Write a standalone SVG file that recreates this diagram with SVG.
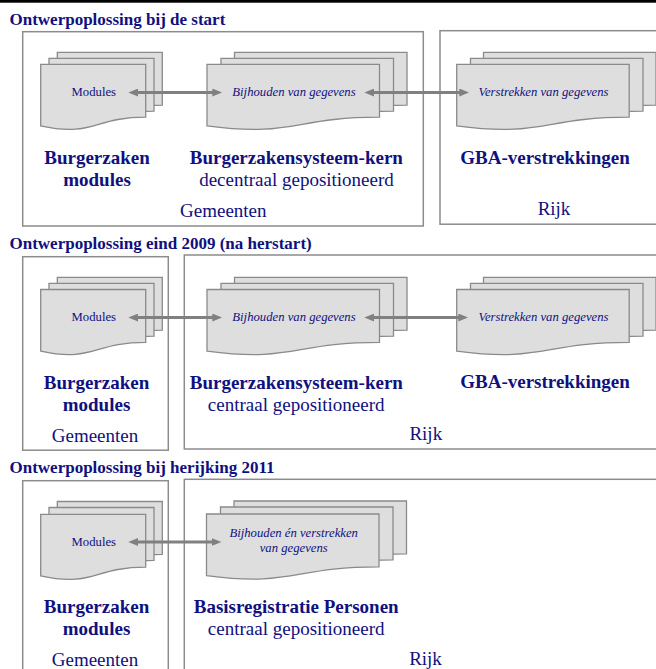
<svg xmlns="http://www.w3.org/2000/svg" xmlns:xlink="http://www.w3.org/1999/xlink" width="656" height="669" viewBox="0 0 656 669">
<style>
.box{fill:#fff;stroke:#8c8c8c;stroke-width:1.5}
.doc{fill:#dedede;stroke:#8a8a8a;stroke-width:1.3}
.t{font-family:'Liberation Serif',Tinos,'Times New Roman',Times,'DejaVu Serif',serif;fill:#10107e}
.title{font-size:17px;font-weight:bold}
.h{font-size:19px;font-weight:bold;text-anchor:middle}
.n{font-size:19px;text-anchor:middle}
.s{font-size:12.7px;text-anchor:middle}
.i{font-size:12.7px;font-style:italic;text-anchor:middle}
.arr{stroke:#808080;stroke-width:3;fill:none;marker-start:url(#ah);marker-end:url(#ah)}
</style>
<defs>
<marker id="ah" viewBox="0 0 10 8" markerWidth="10" markerHeight="8" refX="5" refY="4" orient="auto-start-reverse" markerUnits="userSpaceOnUse">
<path d="M0,0 L10,4 L0,8 Z" fill="#808080"/>
</marker>
<path id="docS" class="doc" d="M0,0 H105 V52.9 C52.5,52.9 52.5,73.1 0,61.6 Z"/>
<path id="docL" class="doc" d="M0,0 H172.5 V52.9 C86.25,52.9 86.25,73.1 0,61.6 Z"/>
</defs>
<rect x="0" y="0" width="656" height="2.7" fill="#000"/>

<!-- Section 1 -->
<g id="section1" font-family="Liberation Serif, serif">
<text class="t title" x="9.5" y="24.5">Ontwerpoplossing bij de start</text>
<g id="s1-gemeenten"><rect class="box" x="22.7" y="31.7" width="400.6" height="194.3"/>
<text class="t n" x="223.3" y="216.5">Gemeenten</text></g>
<g id="s1-rijk"><rect class="box" x="440" y="30.7" width="240" height="193.5"/>
<text class="t n" x="554" y="215">Rijk</text></g>
<g id="s1-modules">
<use href="#docS" x="57.3" y="52.3"/><use href="#docS" x="49" y="58.3"/><use href="#docS" x="40.7" y="64.3"/>
<text class="t s" x="93.8" y="96">Modules</text>
<text class="t h" x="97" y="164">Burgerzaken</text>
<text class="t h" x="97" y="186">modules</text></g>
<g id="s1-bijhouden">
<use href="#docL" x="234.5" y="52.3"/><use href="#docL" x="221" y="58.3"/><use href="#docL" x="207" y="64.3"/>
<text class="t i" x="294" y="96">Bijhouden van gegevens</text>
<text class="t h" x="296.3" y="164">Burgerzakensysteem-kern</text>
<text class="t n" x="296.5" y="186">decentraal gepositioneerd</text></g>
<g id="s1-verstrekken">
<use href="#docL" x="483.5" y="52.3"/><use href="#docL" x="470.5" y="58.3"/><use href="#docL" x="456.7" y="64.3"/>
<text class="t i" x="543.5" y="96">Verstrekken van gegevens</text>
<text class="t h" x="545" y="164">GBA-verstrekkingen</text></g>
</g>

<!-- Section 2 -->
<g id="section2">
<text class="t title" x="9.5" y="248.5">Ontwerpoplossing eind 2009 (na herstart)</text>
<g id="s2-gemeenten"><rect class="box" x="22.7" y="256.7" width="145.6" height="193.5"/>
<text class="t n" x="95" y="441.5">Gemeenten</text></g>
<g id="s2-rijk"><rect class="box" x="184.3" y="255" width="500" height="194"/>
<text class="t n" x="425.8" y="440">Rijk</text></g>
<g id="s2-modules">
<use href="#docS" x="57.3" y="277.3"/><use href="#docS" x="49" y="283.3"/><use href="#docS" x="40.7" y="289.5"/>
<text class="t s" x="93.8" y="321">Modules</text>
<text class="t h" x="96.5" y="388.5">Burgerzaken</text>
<text class="t h" x="96.5" y="410.5">modules</text></g>
<g id="s2-bijhouden">
<use href="#docL" x="234.5" y="277.3"/><use href="#docL" x="221" y="283.3"/><use href="#docL" x="207" y="289.5"/>
<text class="t i" x="294" y="321">Bijhouden van gegevens</text>
<text class="t h" x="296.3" y="388.5">Burgerzakensysteem-kern</text>
<text class="t n" x="296.2" y="410.5">centraal gepositioneerd</text></g>
<g id="s2-verstrekken">
<use href="#docL" x="483.5" y="277.3"/><use href="#docL" x="470.5" y="283.3"/><use href="#docL" x="456.7" y="289.5"/>
<text class="t i" x="543.5" y="321">Verstrekken van gegevens</text>
<text class="t h" x="545" y="388">GBA-verstrekkingen</text></g>
</g>

<!-- Section 3 -->
<g id="section3">
<text class="t title" x="9.5" y="472.5">Ontwerpoplossing bij herijking 2011</text>
<g id="s3-gemeenten"><rect class="box" x="22.7" y="480.7" width="145.6" height="300"/>
<text class="t n" x="95" y="665.5">Gemeenten</text></g>
<g id="s3-rijk"><rect class="box" x="184.3" y="479.3" width="500" height="300"/>
<text class="t n" x="425.5" y="665">Rijk</text></g>
<g id="s3-modules">
<use href="#docS" x="57.3" y="501.5"/><use href="#docS" x="49" y="507.5"/><use href="#docS" x="40.7" y="514.3"/>
<text class="t s" x="93.8" y="545.5">Modules</text>
<text class="t h" x="96.5" y="612.5">Burgerzaken</text>
<text class="t h" x="96.5" y="634.5">modules</text></g>
<g id="s3-brp">
<use href="#docL" x="234" y="501"/><use href="#docL" x="220.5" y="507"/><use href="#docL" x="206.5" y="514"/>
<text class="t i" x="293.7" y="536.5">Bijhouden én verstrekken</text>
<text class="t i" x="293.7" y="551.5">van gegevens</text>
<text class="t h" x="296.2" y="612.5">Basisregistratie Personen</text>
<text class="t n" x="296.2" y="634.5">centraal gepositioneerd</text></g>
</g>

<g id="connectors">
<line class="arr" x1="133.3" y1="92.5" x2="217.3" y2="92.5"/>
<line class="arr" x1="369.3" y1="92.5" x2="464.3" y2="92.5"/>
<line class="arr" x1="133.3" y1="317.5" x2="217.3" y2="317.5"/>
<line class="arr" x1="369.3" y1="317.5" x2="463.3" y2="317.5"/>
<line class="arr" x1="133.3" y1="542" x2="216.5" y2="542"/>
</g>
</svg>
